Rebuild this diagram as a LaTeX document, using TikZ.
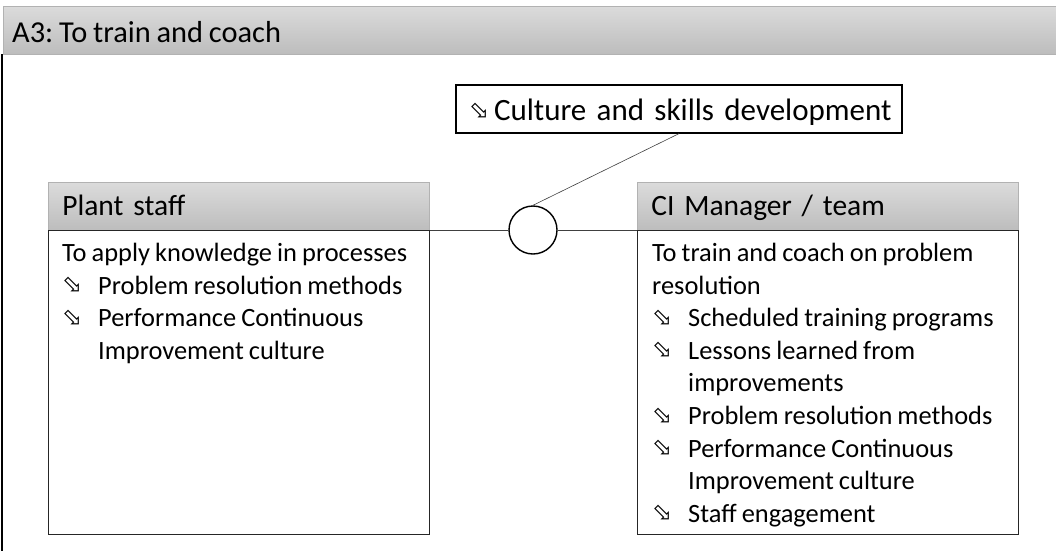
\documentclass[tikz,border=0pt]{standalone}
\usepackage{fontspec}
\setmainfont{Carlito}[WordSpace=0.85]
\newfontfamily\symfont{DejaVu Sans}
\usetikzlibrary{positioning}
\frenchspacing

\newcommand{\pointer}[1][24]{\raisebox{1.5pt}{\symfont\fontsize{#1}{#1}\selectfont ⬂}}
\newcommand{\itm}[1]{\makebox[36pt][l]{\pointer}#1}
\newcommand{\cont}[1]{\hspace*{36pt}#1}

\begin{document}
\begin{tikzpicture}[
  x=1pt,y=-1pt,
  bar/.style={top color=black!14,bottom color=black!26,draw=black!30,line width=.6pt},
  header/.style={bar,anchor=north west,minimum height=48pt,text width=353pt,
    text height=22pt,text depth=4pt,inner xsep=14pt,inner ysep=0pt,align=left,
    font=\fontsize{29.5}{32}\selectfont},
  actor/.style={draw=black!85,line width=1.3pt,anchor=north west,minimum width=381pt,
    minimum height=304pt,inner sep=0pt},
  body/.style={anchor=north west,inner sep=0pt,align=left,
    font=\fontsize{26.4}{32.6}\selectfont},
  link/.style={line width=.6pt,black!75}
]
  \useasboundingbox (0,0) rectangle (1056,550);

  % title bar and left rule
  \path[bar] (3,6) rectangle (1057,54);
  \node[anchor=base west,inner sep=0pt,font=\fontsize{30.4}{32}\selectfont] (title) at (12,42) {A3: To train and coach};
  \draw[line width=1.4pt] (2,54) -- (2,551);

  % plant staff
  \node[header] (planthead) at (48,182) {Plant staff};
  \node[actor] (plantbox) at (48,230) {};
  \node[body] (planttext) at (62,243) {To apply knowledge in processes\\
    \itm{Problem resolution methods}\\
    \itm{Performance Continuous}\\
    \cont{Improvement culture}};

  % CI manager
  \node[header] (cihead) at (637,182) {CI Manager / team};
  \node[actor] (cibox) at (637,230) {};
  \node[body] (citext) at (652,243) {To train and coach on problem\\
    resolution\\
    \itm{Scheduled training programs}\\
    \itm{Lessons learned from}\\
    \cont{improvements}\\
    \itm{Problem resolution methods}\\
    \itm{Performance Continuous}\\
    \cont{Improvement culture}\\
    \itm{Staff engagement}};

  % interface
  \node[draw,line width=1.2pt,fill=white,minimum height=48pt,text width=420pt,align=left,
    text height=22pt,text depth=0pt,inner xsep=13pt,inner ysep=0pt,font=\fontsize{31}{32}\selectfont]
    (skills) at (679,109) {\mbox{\makebox[25pt][l]{\pointer}Culture and skills development}};
  \node[circle,draw,line width=1.4pt,minimum size=48pt,inner sep=0pt] (hub) at (533,230) {};

  \draw[link] (plantbox.north east) -- (hub.west);
  \draw[link] (hub.east) -- (cibox.north west);
  \draw[link] (hub.north) -- (skills.south);
\end{tikzpicture}
\end{document}
